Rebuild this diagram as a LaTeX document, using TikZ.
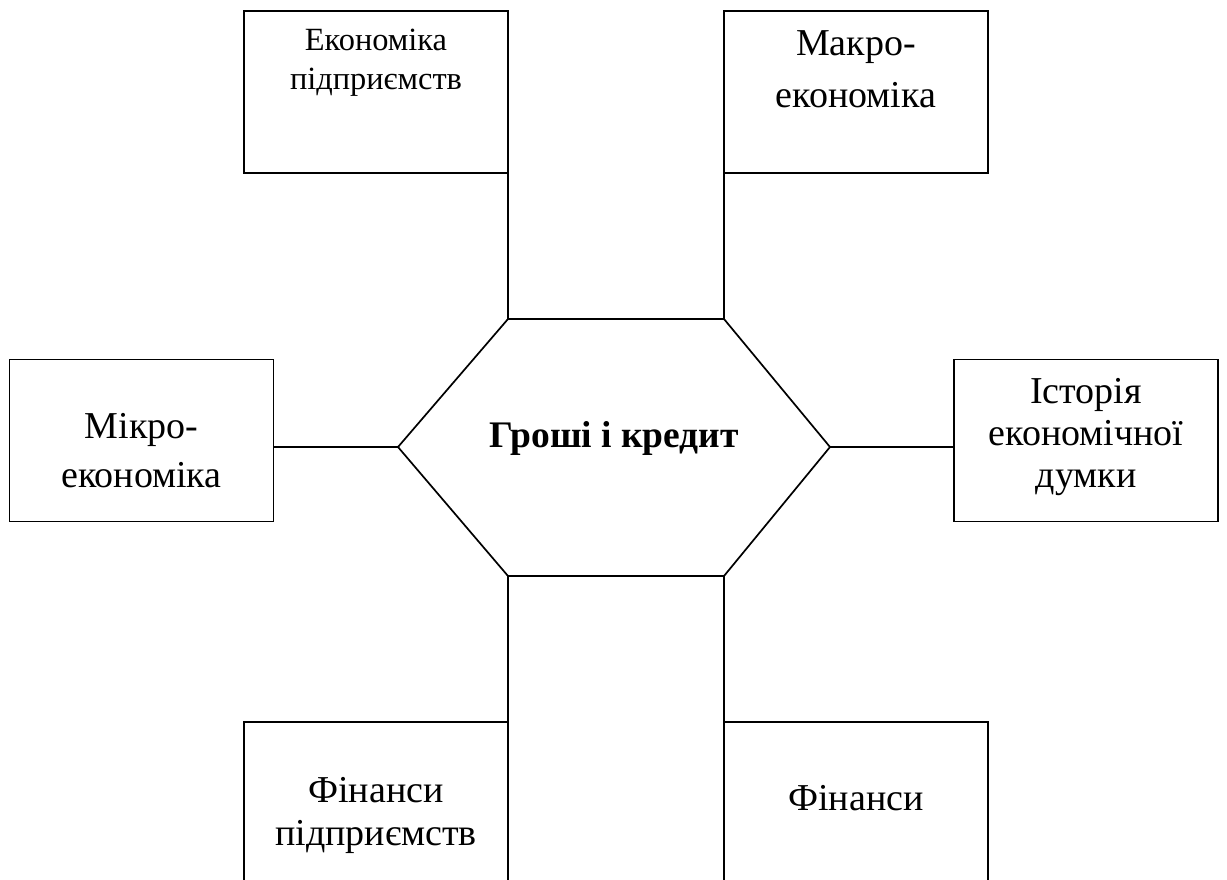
\documentclass[tikz,border=0pt]{standalone}
\usepackage{fontspec}
\setmainfont{Liberation Serif}
\begin{document}
\begin{tikzpicture}[x=1pt,y=-1pt, line width=1.7pt,
  box/.style={draw, minimum width=264pt, minimum height=162pt, inner sep=0pt, outer sep=0pt},
  txt/.style={anchor=base, inner sep=0pt, font=\fontsize{38}{42}\selectfont},
  stxt/.style={anchor=base, inner sep=0pt, font=\fontsize{32.4}{36}\selectfont},
  htxt/.style={anchor=base, inner sep=0pt, font=\fontsize{37.5}{40}\selectfont\bfseries},
  link/.style={draw}]
\useasboundingbox (0,0) rectangle (1227,879);
\clip (0,0) rectangle (1227,879);
\fill[white] (0,0) rectangle (1227,879);
% boxes
\node[box] (tl) at (376,92) {};
\node[box] (tr) at (856,92) {};
\node[box] (l) at (141.5,440.5) {};
\node[box] (r) at (1086,440.5) {};
\node[box] (bl) at (376,803) {};
\node[box] (br) at (856,803) {};
% hexagon
\coordinate (hL) at (398,447);
\coordinate (hTL) at (508,319);
\coordinate (hTR) at (724,319);
\coordinate (hR) at (830,447);
\coordinate (hBR) at (724,576);
\coordinate (hBL) at (508,576);
\draw (hL) -- (hTL) -- (hTR) -- (hR) -- (hBR) -- (hBL) -- cycle;
% connectors
\draw[link] (tl.south east) -- (hTL);
\draw[link] (tr.south west) -- (hTR);
\draw[link] (hL) -- (hL -| l.east);
\draw[link] (hR) -- (hR -| r.west);
\draw[link] (hBL) -- (bl.north east);
\draw[link] (hBR) -- (br.north west);
% texts
\node[stxt] (tlA) at (376,50) {Економіка};
\node[stxt] (tlB) at (376,89) {підприємств};
\node[txt] (trA) at (856,55) {Макро-};
\node[txt] (trB) at (856,107) {економіка};
\node[txt] (lA) at (141.5,438) {Мікро-};
\node[txt] (lB) at (141.5,487) {економіка};
\node[txt] (rA) at (1086,403) {Історія};
\node[txt] (rB) at (1086,445) {економічної};
\node[txt] (rC) at (1086,487) {думки};
\node[txt] (blA) at (376,802) {Фінанси};
\node[txt] (blB) at (376,845) {підприємств};
\node[txt] (brA) at (856,810) {Фінанси};
\node[htxt] (hex) at (614,447) {Гроші і кредит};
\end{tikzpicture}
\end{document}
